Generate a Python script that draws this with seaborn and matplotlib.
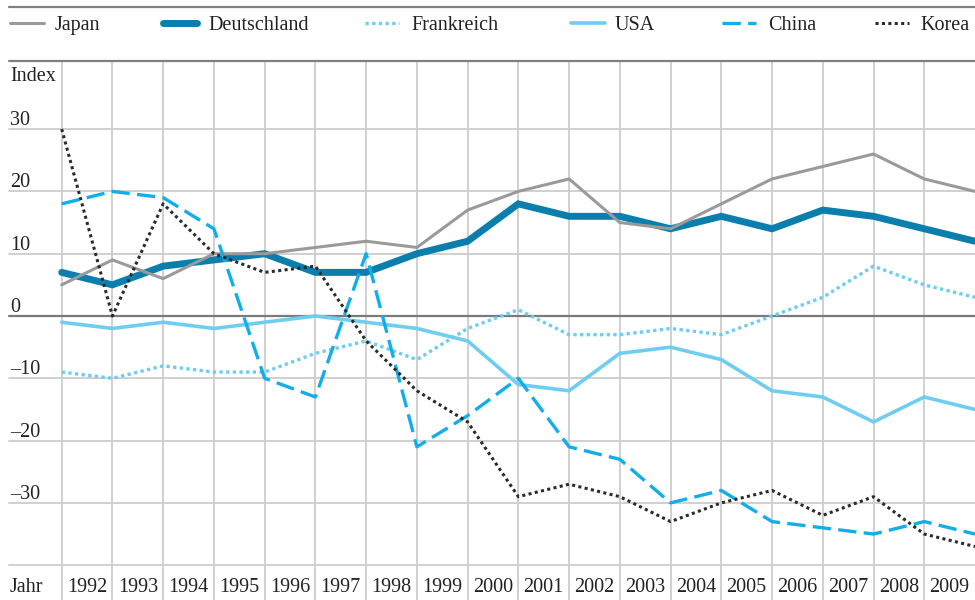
import matplotlib
matplotlib.use("Agg")
import matplotlib.pyplot as plt
from matplotlib.lines import Line2D
from matplotlib.transforms import blended_transform_factory
import pandas as pd
import seaborn as sns

# Index values, 19 observations per country
steps = list(range(19))
japan = [5, 9, 6, 10, 10, 11, 12, 11, 17, 20, 22, 15, 14, 18, 22, 24, 26, 22, 20]
deutschland = [7, 5, 8, 9, 10, 7, 7, 10, 12, 18, 16, 16, 14, 16, 14, 17, 16, 14, 12]
frankreich = [-9, -10, -8, -9, -9, -6, -4, -7, -2, 1, -3, -3, -2, -3, 0, 3, 8, 5, 3]
usa = [-1, -2, -1, -2, -1, 0, -1, -2, -4, -11, -12, -6, -5, -7, -12, -13, -17, -13, -15]
china = [18, 20, 19, 14, -10, -13, 10, -21, -16, -10, -21, -23, -30, -28, -33, -34, -35, -33, -35]
korea = [30, 0, 18, 10, 7, 8, -4, -12, -17, -29, -27, -29, -33, -30, -28, -32, -29, -35, -37]

year_labels = [str(y) for y in range(1992, 2010)]
y_ticks = [30, 20, 10, 0, -10, -20, -30]
y_grid = [30, 20, 10, 0, -10, -20, -30, -40]

sns.set_theme(style="white")
plt.rcParams["font.family"] = ["Liberation Serif", "DejaVu Serif"]

W, H = 975, 600
fig = plt.figure(figsize=(W / 100, H / 100), dpi=100)

# axes covers pixel rows 61..600 and the full width
ax_top_px = 61
ax = fig.add_axes([0, 0, 1, (H - ax_top_px) / H])
px_per_unit = 6.23
zero_px = 316
ax.set_ylim((zero_px - H) / px_per_unit, (zero_px - ax_top_px) / px_per_unit)
x_step = (975 - 61.7) / 18
ax.set_xlim(-61.7 / x_step, 18)
ax.axis("off")


def px_to_val(ypx):
    return (zero_px - ypx) / px_per_unit


grid_c = "#cdcdcd"
# vertical grid
for k in range(18):
    ax.axvline(k, color=grid_c, lw=1.3, zorder=1)
# horizontal grid
x0_frac = 9 / W
for v in y_grid:
    if v == 0:
        ax.axhline(v, xmin=x0_frac, xmax=1, color="#7a7a7a", lw=1.6, zorder=1.5)
    else:
        ax.axhline(v, xmin=x0_frac, xmax=1, color=grid_c, lw=1.3, zorder=1)

series = [
    ("Deutschland", deutschland, dict(color="#0a7fae", lw=5.0, linestyle="-")),
    ("Japan", japan, dict(color="#9a9a9a", lw=2.2, linestyle="-")),
    ("Frankreich", frankreich, dict(color="#6fcdf2", lw=2.4, linestyle=(0, (1, 1)))),
    ("USA", usa, dict(color="#6fcdf2", lw=2.6, linestyle="-")),
    ("China", china, dict(color="#11aeea", lw=2.4, linestyle=(0, (5.5, 2.2)))),
    ("Korea", korea, dict(color="#2b2b2b", lw=2.2, linestyle=(0, (1, 1.1)))),
]
styles = {}
for z, (name, vals, st) in enumerate(series):
    df = pd.DataFrame({"step": steps, "value": vals})
    sns.lineplot(data=df, x="step", y="value", ax=ax, zorder=3 + z,
                 solid_joinstyle="miter", **st)
    styles[name] = st

ax.set_xlabel("")
ax.set_ylabel("")
ax.axis("off")

fs = 14.5
tc = "#222222"
trans = blended_transform_factory(ax.transAxes, ax.transData)
for v in y_ticks:
    lab = str(v) if v >= 0 else "\u2013" + str(-v)
    ax.text(10 / W, v + 4 / px_per_unit, lab, transform=trans, ha="left",
            va="baseline", fontsize=fs, color=tc)
ax.text(10 / W, px_to_val(81), "Index", transform=trans,
        ha="left", va="baseline", fontsize=fs, color=tc)
row_y = px_to_val(592)
ax.text(10 / W, row_y, "Jahr", transform=trans, ha="left", va="baseline",
        fontsize=fs, color=tc)
for k, lab in enumerate(year_labels):
    ax.text(k + 0.5, row_y, lab, ha="center", va="baseline", fontsize=fs,
            color=tc)

# rules framing the legend band
for ypx in (7, 61):
    fig.add_artist(Line2D([9 / W, 1], [1 - ypx / H, 1 - ypx / H],
                          color="#808080", lw=1.6))

# legend entries
legend_pos = [("Japan", 10, 55), ("Deutschland", 163, 208),
              ("Frankreich", 365, 411), ("USA", 571, 615),
              ("China", 722, 768), ("Korea", 875, 920)]
ly = 1 - 23 / H
for name, hx, tx in legend_pos:
    st = styles[name]
    fig.add_artist(Line2D([hx / W, (hx + 34) / W], [ly, ly], color=st["color"],
                          lw=st["lw"], linestyle=st["linestyle"]))
    fig.text(tx / W, 1 - 30 / H, name, ha="left", va="baseline", fontsize=fs,
             color=tc)

fig.savefig("out.png", dpi=100)
